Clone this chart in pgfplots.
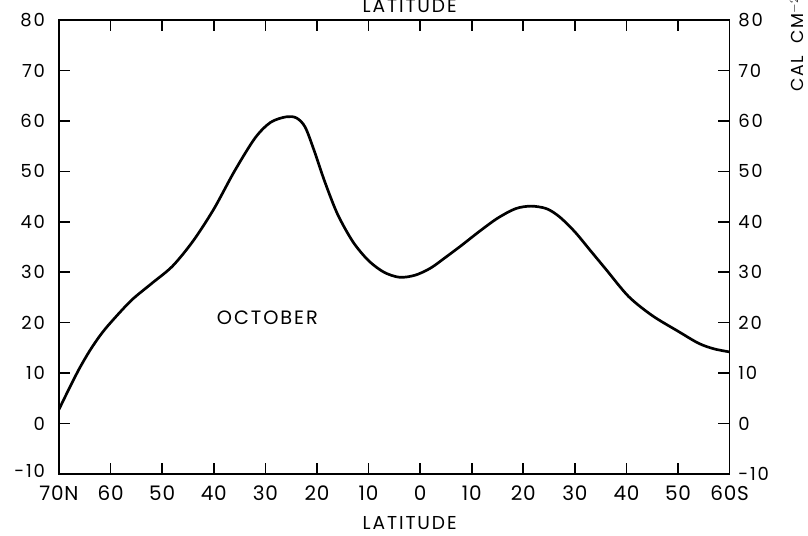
\documentclass[border=0pt]{standalone}
\usepackage{pgfplots}
\pgfplotsset{compat=1.18}
\usepackage{fontspec}
\setmainfont[LetterSpace=10]{Poppins}
\pgfplotstableread{
lat val
70 2.8
68 7
66 11
64 14.5
62 17.5
60 20
56 24.4
52 27.8
48 31.2
44 36.2
40 42.5
36 50
32 56.6
29 59.7
26 60.8
24 60.6
22.3 58.8
20.5 54
18.5 48
16 41.5
13 36
10 32.3
7 30
4 29
1 29.4
-2 30.8
-5 33
-8 35.3
-11.5 38.1
-15 40.7
-18.5 42.6
-21.5 43.1
-24.5 42.6
-27 41
-30 38
-33 34.3
-36 30.6
-40.4 25.2
-45 21.4
-50 18.3
-54 15.9
-57 14.8
-60 14.2
}\octdata
\begin{document}
\begin{tikzpicture}
\useasboundingbox (-44.25pt,-46.5pt) rectangle (561.75pt,355.5pt);
\pgfplotsset{common/.style={at={(0pt,0pt)}, anchor=south west, scale only axis,
  width=503pt, height=340.5pt, xmin=-60, xmax=70, x dir=reverse, ymin=-10, ymax=80,
  xtick={70,60,...,-60}, ytick={-10,0,...,80},
  /pgf/number format/assume math mode=true,
  yticklabel style={font=\fontsize{13.5}{15}\selectfont}}}
\begin{axis}[common,
  axis line style={line width=1.2pt},
  tick align=inside, xtick pos=both, ytick pos=both,
  major tick length=8.5pt,
  tick style={draw=black, line width=1.2pt},
  xticklabel pos=bottom, yticklabel pos=left,
  xticklabels={70N,60,50,40,30,20,10,0,10,20,30,40,50,60S},
  yticklabels={\raisebox{4.5pt}{-10},0,10,20,30,40,50,60,70,80},
  xticklabel style={font=\fontsize{15}{17}\selectfont\addfontfeatures{LetterSpace=4}, yshift=-5pt},
  yticklabel style={xshift=-7pt}]
\addplot[black, line width=2pt, smooth] table[x=lat,y=val]{\octdata};
\node[font=\fontsize{14.5}{16}\selectfont] at (axis cs:29.6,20.9) {OCTOBER};
\end{axis}
\begin{axis}[common, axis line style={draw=none}, xticklabels={},
  yticklabels={-10,0,10,20,30,40,50,60,70,80},
  major tick length=0pt, tick style={draw=none}, yticklabel pos=right,
  yticklabel style={xshift=3pt}]
\addplot[draw=none] coordinates {(0,0)};
\end{axis}
\node[font=\fontsize{14}{16}\selectfont] at (263pt,-37pt) {LATITUDE};
\node[font=\fontsize{14}{16}\selectfont] at (263pt,351pt) {LATITUDE};
\node[rotate=90, anchor=west, font=\fontsize{13}{15}\selectfont] at (553.5pt,283pt) {CAL\ \ CM$^{-2}$ DAY$^{-1}$};
\end{tikzpicture}
\end{document}
